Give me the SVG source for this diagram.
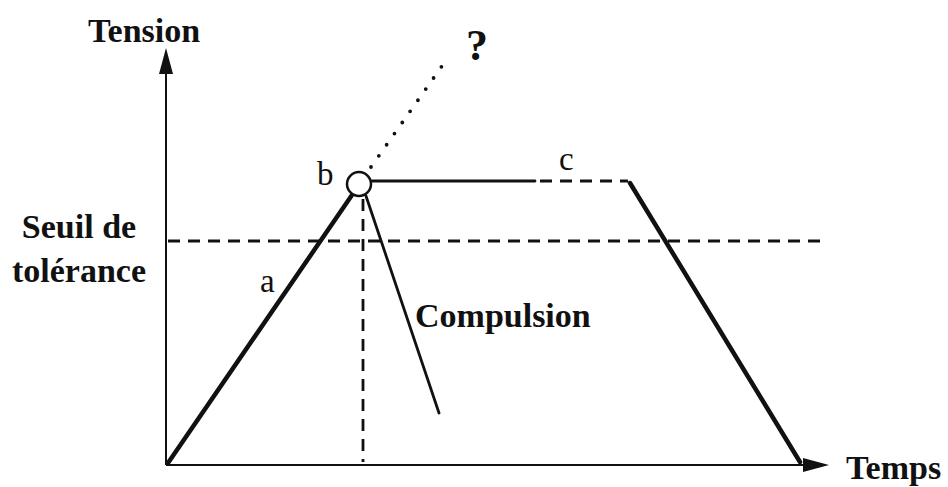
<svg xmlns="http://www.w3.org/2000/svg" width="948" height="487" viewBox="0 0 948 487">
<style>
.lbl{font-family:"Liberation Serif","Times New Roman",serif;fill:#111}
.b{font-weight:bold;font-size:34px}
.r{font-size:33px}
.axis{stroke:#111;stroke-width:2;fill:none}
.thick{stroke:#111;stroke-width:4.5;fill:none;stroke-linecap:round}
.thin{stroke:#111;stroke-width:2.8;fill:none;stroke-linecap:round}
.dash{stroke:#111;stroke-width:2.8;fill:none;stroke-dasharray:12 8}
.dot{stroke:#111;stroke-width:3.8;fill:none;stroke-dasharray:0 13.6;stroke-linecap:round}
</style>
<rect width="948" height="487" fill="#fff"/>
<g id="connectors">
<line class="axis" x1="166" y1="465" x2="166" y2="52"/>
<path d="M166,48 L159,74 L173,74 z" fill="#111"/>
<line class="axis" x1="166" y1="465" x2="806" y2="465"/>
<path d="M829,465 L803,458 L803,472 z" fill="#111"/>
<line class="dash" x1="168" y1="241" x2="822" y2="241"/>
<line class="thick" x1="168" y1="463" x2="352" y2="195"/>
<line class="thin" x1="366" y1="196" x2="439" y2="413"/>
<line class="dash" x1="363" y1="199" x2="363" y2="462"/>
<line class="thin" x1="372" y1="181" x2="535" y2="181"/>
<line class="dash" x1="540" y1="181" x2="628" y2="181"/>
<line class="thick" x1="630" y1="183" x2="800" y2="462"/>
<line class="dot" x1="371" y1="167" x2="442" y2="66"/>
</g>
<g id="node-b">
<circle cx="359" cy="184" r="12" fill="#fff" stroke="#111" stroke-width="2.5"/>
<text class="lbl r" x="317" y="185">b</text>
</g>
<g id="label-a"><text class="lbl r" x="260" y="292">a</text></g>
<g id="label-c"><text class="lbl r" x="559" y="170">c</text></g>
<g id="label-q"><text class="lbl" x="466" y="60" font-weight="bold" font-size="44">?</text></g>
<g id="label-tension"><text class="lbl b" x="88" y="42">Tension</text></g>
<g id="label-temps"><text class="lbl b" x="846" y="479">Temps</text></g>
<g id="label-seuil"><text class="lbl b" x="79" y="238" text-anchor="middle">Seuil de</text><text class="lbl b" x="79" y="282" text-anchor="middle">tolérance</text></g>
<g id="label-compulsion"><text class="lbl b" x="415" y="327">Compulsion</text></g>
</svg>
